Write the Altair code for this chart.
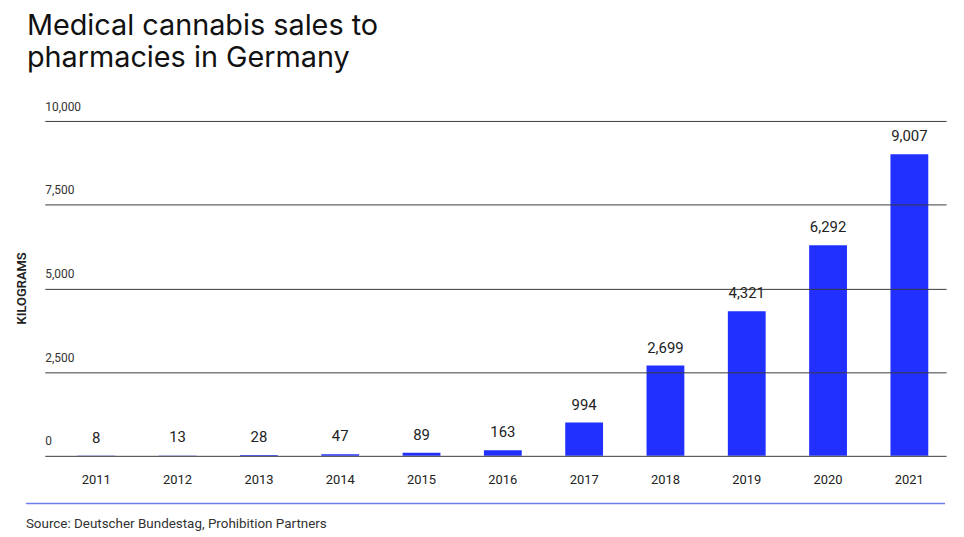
import altair as alt
import pandas as pd

years = ["2011", "2012", "2013", "2014", "2015", "2016", "2017", "2018", "2019", "2020", "2021"]
kilograms = [8, 13, 28, 47, 89, 163, 994, 2699, 4321, 6292, 9007]
y_ticks = [0, 2500, 5000, 7500, 10000]
title_lines = ["Medical cannabis sales to", "pharmacies in Germany"]
y_title = "KILOGRAMS"
source_text = "Source: Deutscher Bundestag, Prohibition Partners"

df = pd.DataFrame({"year": years, "kg": kilograms})
df["label"] = [f"{v:,}" for v in kilograms]

FONT = "Roboto"
W, H = 907, 337

x_enc = alt.X(
    "year:N",
    sort=years,
    title=None,
    scale=alt.Scale(paddingInner=0.535, paddingOuter=0.31, align=0.647, round=False),
    axis=alt.Axis(
        domain=False, ticks=False, labelPadding=18, labelFontSize=13,
        labelFont=FONT, labelColor="#222", labelAngle=0,
    ),
)
y_enc = alt.Y(
    "kg:Q",
    title=y_title,
    scale=alt.Scale(domain=[0, 10000], nice=False),
    axis=alt.Axis(
        values=y_ticks, format=",.0f", grid=True, gridColor="#3a3a3a", gridWidth=1,
        domain=False, ticks=False, labelAlign="left", labelBaseline="bottom",
        labelPadding=0, labelOffset=-8, labelFontSize=12, labelFont=FONT,
        labelColor="#333", zindex=1,
        titleX=-23, titleY=168, titleAngle=-90, titleAlign="center",
        titleBaseline="middle", titleFontSize=13, titleFont=FONT,
        titleFontWeight=600, titleColor="#222",
    ),
)

bars = alt.Chart(df).mark_bar(color="#2130FF").encode(x=x_enc, y=y_enc)

labels = alt.Chart(df).mark_text(
    baseline="bottom", dy=-10, fontSize=15, font=FONT, color="#222"
).encode(x=alt.X("year:N", sort=years), y="kg:Q", text="label:N")

rule = alt.Chart(pd.DataFrame({"a": [0]})).mark_rule(
    color="#6f80ee", strokeWidth=1.5
).encode(x=alt.value(-19), x2=alt.value(906), y=alt.value(H + 48))

source = alt.Chart(pd.DataFrame({"t": [source_text]})).mark_text(
    align="left", baseline="alphabetic", fontSize=13.5, font=FONT, color="#333"
).encode(x=alt.value(-19), y=alt.value(H + 73), text="t:N")

chart = alt.layer(bars, labels, rule, source).properties(
    width=W,
    height=H,
    autosize=alt.AutoSizeParams(type="none"),
    padding={"left": 37, "top": 112, "right": 10, "bottom": 78},
    title=alt.TitleParams(
        text=title_lines, anchor="start", frame="group", dx=-18, dy=-23,
        fontSize=29, font="Inter", fontWeight=400, color="#111", lineHeight=33,
    ),
).configure_view(stroke=None)

chart.save("out.html", embed_options={"renderer": "svg", "actions": False})
